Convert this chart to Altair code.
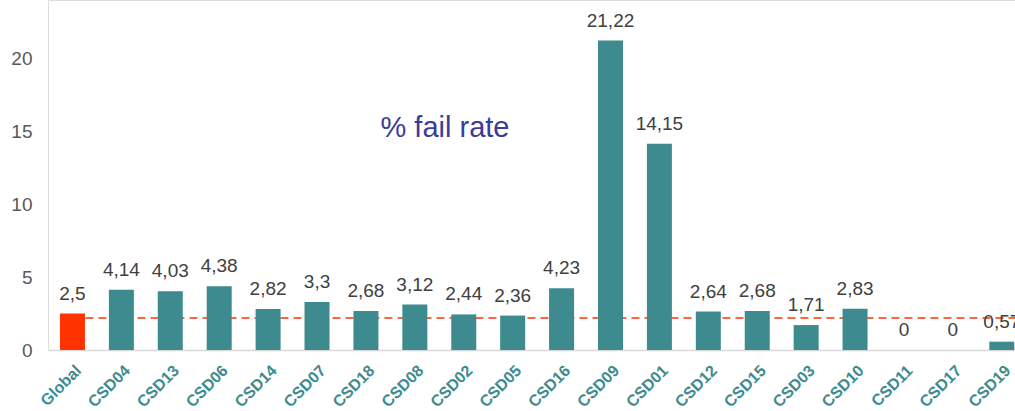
import altair as alt
import pandas as pd

names = ["Global", "CSD04", "CSD13", "CSD06", "CSD14", "CSD07", "CSD18", "CSD08", "CSD02", "CSD05",
         "CSD16", "CSD09", "CSD01", "CSD12", "CSD15", "CSD03", "CSD10", "CSD11", "CSD17", "CSD19"]
values = [2.5, 4.14, 4.03, 4.38, 2.82, 3.3, 2.68, 3.12, 2.44, 2.36,
          4.23, 21.22, 14.15, 2.64, 2.68, 1.71, 2.83, 0, 0, 0.57]
ref_level = 2.2
title_text = "% fail rate"

TEAL = "#3d8b8f"
RED = "#ff3300"

df = pd.DataFrame({"idx": list(range(len(names))), "name": names, "value": values,
                   "kind": ["global"] + ["csd"] * (len(names) - 1)})

label_expr = "[" + ",".join(f"'{n}'" for n in names) + "][datum.value]"

x_scale = alt.Scale(domain=[-0.5, 19.27], nice=False, zero=False, padding=0)
y_scale = alt.Scale(domain=[0, 24], nice=False, padding=0)

base = alt.Chart(df)

x_enc = alt.X("idx:Q", scale=x_scale, axis=alt.Axis(
    values=list(range(len(names))), labelExpr=label_expr, labelAngle=-45,
    labelFont="Liberation Sans", labelFontSize=16, labelFontWeight="bold", labelColor=TEAL,
    ticks=False, grid=False, domainColor="#d9d9d9", domainWidth=1.5, labelPadding=12,
    title=None, labelOverlap=False, labelBound=False, labelFlush=False))
y_enc = alt.Y("value:Q", scale=y_scale, axis=alt.Axis(
    values=[0, 5, 10, 15, 20], grid=False, domain=False, ticks=False,
    labelFont="Liberation Sans", labelFontSize=19, labelColor="#595959",
    labelPadding=16, title=None))

rule = alt.Chart(pd.DataFrame({"a": [0], "b": [19.27], "lvl": [ref_level]})).mark_rule(
    color=RED, strokeDash=[8, 5], strokeWidth=1.5, clip=True
).encode(x=alt.X("a:Q", scale=x_scale), x2="b:Q", y=alt.Y("lvl:Q", scale=y_scale))

bars = base.mark_bar(size=25, clip=True).encode(
    x=x_enc, y=y_enc,
    color=alt.Color("kind:N", scale=alt.Scale(domain=["global", "csd"], range=[RED, TEAL]), legend=None))

labels = base.transform_calculate(
    lbl="replace(toString(datum.value), '.', ',')"
).mark_text(font="Liberation Sans", fontSize=19, color="#404040", baseline="alphabetic",
            dy=-14, clip=True).encode(x=alt.X("idx:Q", scale=x_scale), y=alt.Y("value:Q", scale=y_scale),
                                      text="lbl:N")

title = alt.Chart(pd.DataFrame({"t": [title_text]})).mark_text(
    font="Liberation Sans", fontSize=29, color="#3b3b9b", align="center", baseline="middle"
).encode(x=alt.value(397), y=alt.value(128), text="t:N")

chart = alt.layer(rule, bars, labels, title).properties(
    width=967, height=350,
    autosize=alt.AutoSizeParams(type="none"),
    padding={"left": 48, "top": 0, "right": 0, "bottom": 61},
).configure_view(stroke=None).configure(background="white")

chart.save("out.html", embed_options={"renderer": "svg", "actions": False})
